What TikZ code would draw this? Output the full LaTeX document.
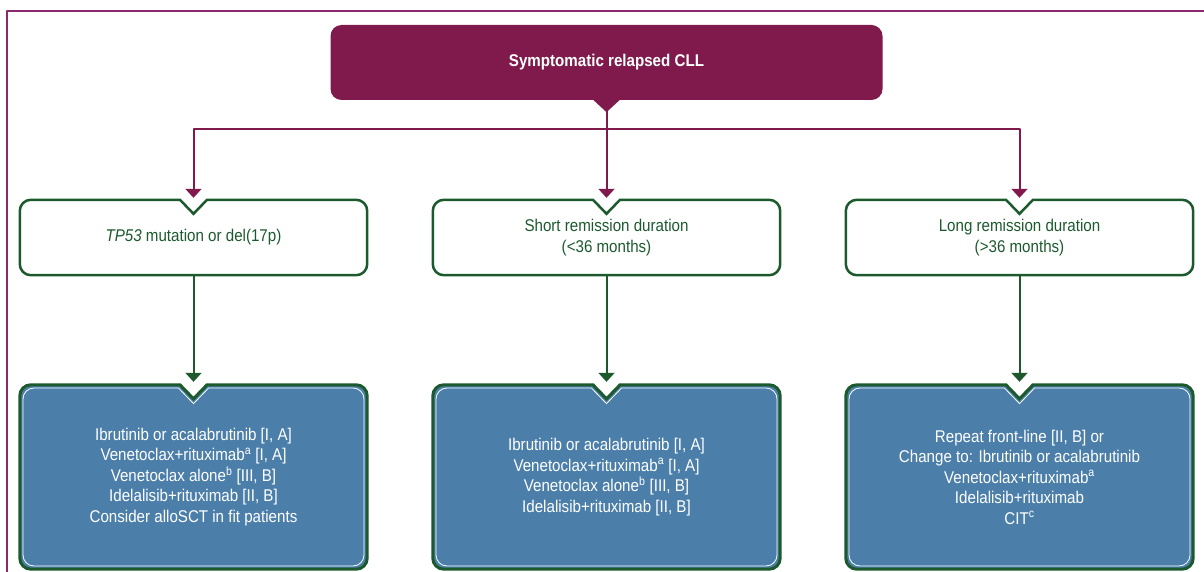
\documentclass[tikz,border=0pt]{standalone}
\usepackage{fontspec}
\setmainfont{Liberation Sans}[FakeStretch=0.89]
\usepackage{tikz}
\usetikzlibrary{calc,arrows.meta,backgrounds}

\definecolor{cllpurple}{RGB}{128,26,76}
\definecolor{cllframe}{RGB}{140,40,110}
\definecolor{cllgreen}{RGB}{28,90,46}
\definecolor{cllblue}{RGB}{75,127,170}

\newcommand{\cllsize}{\fontsize{17}{20.5}\selectfont}

% outline of a box with a notch in the middle of its top side
\newcommand{\notchpath}[2]{%
  ($(#1.north)+(13.5+0.5*#2,#2)$) [rounded corners=11pt]
  -- ($(#1.north east)+(-#2,#2)$) -- ($(#1.south east)+(-#2,-#2)$)
  -- ($(#1.south west)+(#2,-#2)$) -- ($(#1.north west)+(#2,#2)$) [sharp corners]
  -- ($(#1.north)+(-13.5-0.5*#2,#2)$) -- ($(#1.north)+(0,14+1.5*#2)$) -- cycle}

\tikzset{
  headbox/.style={minimum width=552pt, minimum height=75pt, inner sep=0pt,
    fill=cllpurple, rounded corners=11pt, text=white, font=\cllsize\bfseries},
  groupbox/.style={minimum width=347pt, minimum height=75pt, inner sep=0pt,
    text=cllgreen, align=center, font=\cllsize},
  carebox/.style={minimum width=347pt, minimum height=184pt, inner sep=0pt,
    text=white, align=center, font=\cllsize},
  purplearrow/.style={cllpurple, line width=2pt, -{Triangle[width=16pt,length=9pt]}},
  greenarrow/.style={cllgreen, line width=2pt, -{Triangle[width=16pt,length=9pt]}}
}

\begin{document}
\begin{tikzpicture}[x=1pt, y=-1pt, line join=round]
  \useasboundingbox (0,0) rectangle (1204,572);

  % Outer frame
  \draw[cllframe, line width=1.5pt] (7,572) -- (7,11) -- (1204,11);

  % Top box
  \node[headbox] (start) at (606.5,62.5) {Symptomatic relapsed CLL};
  \fill[cllpurple] ($(start.south)+(-14,-1)$) -- ($(start.south)+(14,-1)$) -- ($(start.south)+(0,12)$) -- cycle;

  % Groups
  \node[groupbox] (tp) at (193.5,237.5) {\textit{TP53} mutation or del(17p)};
  \node[groupbox] (short) at (606.5,237.5) {Short remission duration\\(<36 months)};
  \node[groupbox] (long) at (1019.5,237.5) {Long remission duration\\(>36 months)};

  % Treatments
  \node[carebox] (tpcare) at (193.5,477) {Ibrutinib or acalabrutinib [I, A]\\
    Venetoclax+rituximab\textsuperscript{a} [I, A]\\
    Venetoclax alone\textsuperscript{b} [III, B]\\
    Idelalisib+rituximab [II, B]\\
    Consider alloSCT in fit patients};
  \node[carebox] (shortcare) at (606.5,477) {Ibrutinib or acalabrutinib [I, A]\\
    Venetoclax+rituximab\textsuperscript{a} [I, A]\\
    Venetoclax alone\textsuperscript{b} [III, B]\\
    Idelalisib+rituximab [II, B]};
  \node[carebox] (longcare) at (1019.5,477) {Repeat front-line [II, B] or\\
    Change to: Ibrutinib or acalabrutinib\\
    Venetoclax+rituximab\textsuperscript{a}\\
    Idelalisib+rituximab\\
    CIT\textsuperscript{c}};

  % Box outlines behind the text
  \begin{scope}[on background layer]
    \foreach \n in {tp,short,long}
      \draw[cllgreen, fill=white, line width=2.5pt] \notchpath{\n}{0};
    \foreach \n in {tpcare,shortcare,longcare} {
      \draw[cllgreen, fill=cllblue, line width=3pt] \notchpath{\n}{0};
      \draw[white, line width=0.8pt] \notchpath{\n}{3.2};
    }
  \end{scope}

  % Connectors
  \draw[purplearrow, shorten >=2pt] (start.south) -- (short.north);
  \draw[purplearrow, shorten >=2pt] (start.south) -- ++(0,29) -| (tp.north);
  \draw[purplearrow, shorten >=2pt] (start.south) -- ++(0,29) -| (long.north);
  \draw[greenarrow, shorten >=3pt] (tp.south) -- (tpcare.north);
  \draw[greenarrow, shorten >=3pt] (short.south) -- (shortcare.north);
  \draw[greenarrow, shorten >=3pt] (long.south) -- (longcare.north);

\end{tikzpicture}
\end{document}
